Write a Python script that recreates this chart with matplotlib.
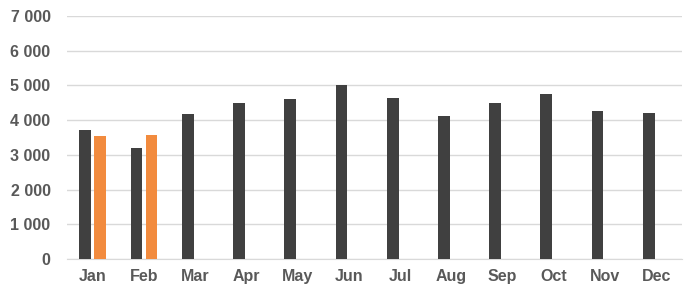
import numpy as np
import matplotlib.pyplot as plt

months = ['Jan', 'Feb', 'Mar', 'Apr', 'May', 'Jun', 'Jul', 'Aug', 'Sep', 'Oct', 'Nov', 'Dec']
prev_year = [3720, 3200, 4180, 4490, 4600, 5000, 4630, 4120, 4490, 4750, 4270, 4200]
this_year = [3530, 3580]

plt.rcParams['font.family'] = ['Liberation Sans', 'DejaVu Sans']

fig = plt.figure(figsize=(7, 2.96), dpi=100)
ax = fig.add_axes([0.096, 0.125, 0.878, 0.821])

x = np.arange(len(months))
w = 0.23
ax.bar(x - 0.145, prev_year, width=w, color='#404040', zorder=3)
ax.bar(x[:len(this_year)] + 0.145, this_year, width=w, color='#f28b3e', zorder=3)

ax.set_xlim(-0.5, len(months) - 0.5)
ax.set_ylim(0, 7000)
ax.set_yticks(range(0, 7001, 1000))
ax.set_yticklabels([f'{v:,}'.replace(',', ' ') for v in range(0, 7001, 1000)])
ax.set_xticks(x)
ax.set_xticklabels(months)

ax.grid(axis='y', color='#d9d9d9', linewidth=1, zorder=0)
for s in ['top', 'right', 'left']:
    ax.spines[s].set_visible(False)
ax.spines['bottom'].set_color('#d9d9d9')
ax.tick_params(length=0, labelcolor='#595959', labelsize=11.5)
ax.tick_params(axis='y', pad=12)
ax.tick_params(axis='x', pad=7)
for lbl in ax.get_xticklabels() + ax.get_yticklabels():
    lbl.set_fontweight('bold')

fig.savefig('out.png')
